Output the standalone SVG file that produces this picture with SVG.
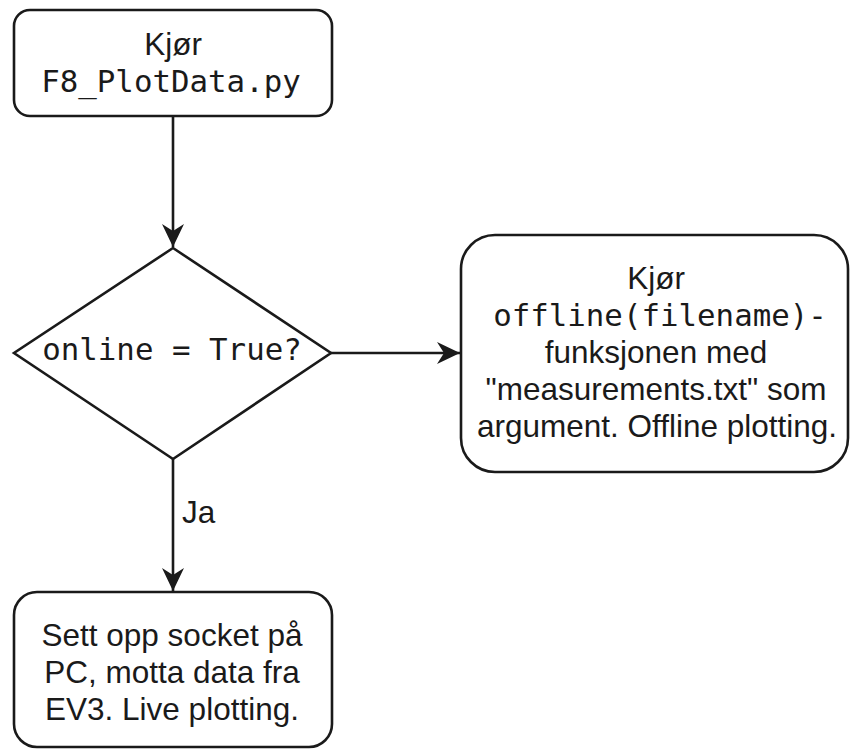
<svg xmlns="http://www.w3.org/2000/svg" width="850" height="749" viewBox="0 0 850 749">
<defs>
<style>
.box{fill:#fff;stroke:#1a1a1a;stroke-width:2.6}
.edge{fill:none;stroke:#1a1a1a;stroke-width:2.6}
.t{font-family:"Liberation Sans",Arial,sans-serif;font-size:31.5px;fill:#1a1a1a;text-anchor:middle}
.m{font-family:"DejaVu Sans Mono","Liberation Mono",monospace;font-size:30.8px;fill:#1a1a1a;text-anchor:middle}
</style>
<marker id="arr" viewBox="0 0 24 22" refX="23" refY="11" markerWidth="24" markerHeight="22" markerUnits="userSpaceOnUse" orient="auto">
<path d="M0,0 L23,11 L0,22 L7,11 Z" fill="#1a1a1a"/>
</marker>
</defs>
<rect width="850" height="749" fill="#fff"/>
<g id="connectors">
<path class="edge" d="M173,117 V247" marker-end="url(#arr)"/>
<path class="edge" d="M331,353 H460" marker-end="url(#arr)"/>
<path class="edge" d="M173,459 V591" marker-end="url(#arr)"/>
<text class="t" x="182" y="523" style="text-anchor:start">Ja</text>
</g>
<g id="start">
<rect class="box" x="14" y="10" width="318" height="106" rx="16" ry="16"/>
<text class="t" x="173" y="55">Kjør</text>
<text class="m" x="171" y="92">F8_PlotData.py</text>
</g>
<g id="decision">
<path class="box" d="M173,248 L331,353 L173,459 L14,353 Z"/>
<text class="m" x="172" y="360">online = True?</text>
</g>
<g id="offline">
<rect class="box" x="461" y="235" width="387" height="237" rx="34" ry="34"/>
<text class="t" x="656" y="289">Kjør</text>
<text class="m" x="660" y="326">offline(filename)-</text>
<text class="t" x="656" y="363">funksjonen med</text>
<text class="t" x="656" y="400">"measurements.txt" som</text>
<text class="t" x="657" y="437">argument. Offline plotting.</text>
</g>
<g id="live">
<rect class="box" x="14" y="592" width="318" height="155" rx="23" ry="23"/>
<text class="t" x="172" y="646">Sett opp socket på</text>
<text class="t" x="172" y="683">PC, motta data fra</text>
<text class="t" x="172" y="720">EV3. Live plotting.</text>
</g>
</svg>
